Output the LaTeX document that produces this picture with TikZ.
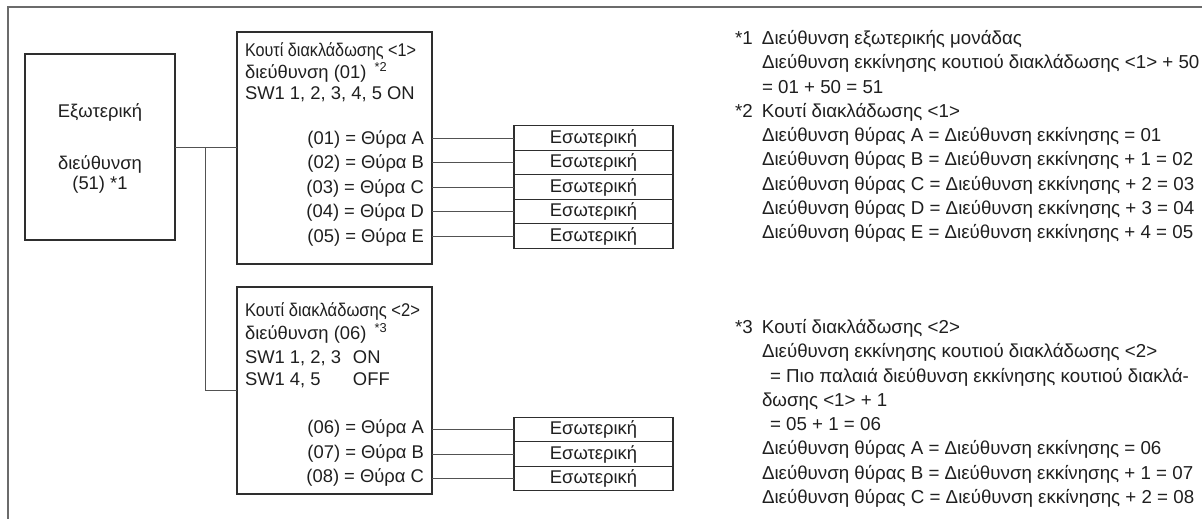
\documentclass[tikz,border=0pt]{standalone}
\usepackage{fontspec}
\setmainfont{Liberation Sans}
\begin{document}
\begin{tikzpicture}[x=0.75pt,y=-0.75pt,
  every node/.style={inner sep=0pt, outer sep=0pt, text=black!88, font=\fontsize{13.8}{18.2}\selectfont},
  notes/.style={anchor=base west, font=\fontsize{14.05}{18.2}\selectfont},
  frameline/.style={draw=black!58, line width=1.6pt},
  boxline/.style={draw=black!82, line width=0.8pt},
  wire/.style={draw=black!68, line width=0.75pt},
  unitbox/.style={boxline, minimum width=112.5pt, minimum height=139.5pt},
  branchbox/.style={boxline, minimum width=146.25pt},
  indoor/.style={boxline, minimum width=119.25pt, minimum height=18.4pt},
  lbl/.style={anchor=base west},
  portlbl/.style={anchor=base east},
  ctr/.style={anchor=base}]
\useasboundingbox (0,0) rectangle (1202,518);
% outer frame (only top and left edges visible)
\draw[frameline] (8,1400) -- (8,7) -- (1300,7);

% outdoor unit
\node[unitbox] (unit) at (100,147) {};
\node[ctr] (u1) at (100,117.5) {Εξωτερική};
\node[ctr] (u2) at (100,169.5) {διεύθυνση};
\node[ctr] (u3) at (100,189.5) {(51) *1};

% branch box 1
\node[branchbox, minimum height=174pt] (box1) at (334.5,148) {};
\node[lbl] (b1a) at (245,56.5) {\scalebox{0.88}[1]{Κουτί διακλάδωσης <1>}};
\node[lbl] (b1b) at (245,78.5) {διεύθυνση (01) \,\textsuperscript{*2}};
\node[lbl] (b1c) at (245,99.5) {SW1 1, 2, 3, 4, 5 ON};

% branch box 2
\node[branchbox, minimum height=155.25pt] (box2) at (334.5,390.5) {};
\node[lbl] (b2a) at (245,316.5) {\scalebox{0.9}[1]{Κουτί διακλάδωσης <2>}};
\node[lbl] (b2b) at (245,339.5) {διεύθυνση (06) \,\textsuperscript{*3}};
\node[lbl] (b2c) at (245,363.5) {\makebox[81pt][l]{SW1 1, 2, 3}ON};
\node[lbl] (b2d) at (245,385.5) {\makebox[81pt][l]{SW1 4, 5}OFF};

% indoor units of box 1
\foreach \n/\y/\p in {1/138/{(01) = Θύρα A},2/162.5/{(02) = Θύρα B},3/187/{(03) = Θύρα C},4/211.5/{(04) = Θύρα D},5/236/{(05) = Θύρα E}}{
  \node[indoor] (i\n) at (593.5,\y) {Εσωτερική};
  \node[portlbl] (p\n) at (424,\y+6.3) {\p};
  \draw[wire] (box1.east |- i\n.west) -- (i\n.west);
}
% indoor units of box 2
\foreach \n/\y/\p in {1/429.5/{(06) = Θύρα A},2/454/{(07) = Θύρα B},3/478.5/{(08) = Θύρα C}}{
  \node[indoor] (j\n) at (593.5,\y) {Εσωτερική};
  \node[portlbl] (q\n) at (424,\y+4.3) {\p};
  \draw[wire] (box2.east |- j\n.west) -- (j\n.west);
}

% connections outdoor -> branch boxes
\coordinate (bj) at (205,147);
\draw[wire] (unit.east) -- (unit.east -| box1.west);
\draw[wire] (bj) |- (box2.west);

% notes
\node[notes] (n1) at (735,44.5) {\begin{tabular}[t]{@{}p{20.25pt}@{}l@{}}
{*}1 & Διεύθυνση εξωτερικής μονάδας\\
 & Διεύθυνση εκκίνησης κουτιού διακλάδωσης <1> + 50\\
 & = 01 + 50 = 51\\
{*}2 & Κουτί διακλάδωσης <1>\\
 & Διεύθυνση θύρας A = Διεύθυνση εκκίνησης = 01\\
 & Διεύθυνση θύρας B = Διεύθυνση εκκίνησης + 1 = 02\\
 & Διεύθυνση θύρας C = Διεύθυνση εκκίνησης + 2 = 03\\
 & Διεύθυνση θύρας D = Διεύθυνση εκκίνησης + 3 = 04\\
 & Διεύθυνση θύρας E = Διεύθυνση εκκίνησης + 4 = 05
\end{tabular}};
\node[notes] (n3) at (735,333.5) {\begin{tabular}[t]{@{}p{20.25pt}@{}l@{}}
{*}3 & Κουτί διακλάδωσης <2>\\
 & Διεύθυνση εκκίνησης κουτιού διακλάδωσης <2>\\
 & \hspace*{6pt}= Πιο παλαιά διεύθυνση εκκίνησης κουτιού διακλά-\\
 & δωσης <1> + 1\\
 & \hspace*{6pt}= 05 + 1 = 06\\
 & Διεύθυνση θύρας A = Διεύθυνση εκκίνησης = 06\\
 & Διεύθυνση θύρας B = Διεύθυνση εκκίνησης + 1 = 07\\
 & Διεύθυνση θύρας C = Διεύθυνση εκκίνησης + 2 = 08
\end{tabular}};
\end{tikzpicture}
\end{document}
